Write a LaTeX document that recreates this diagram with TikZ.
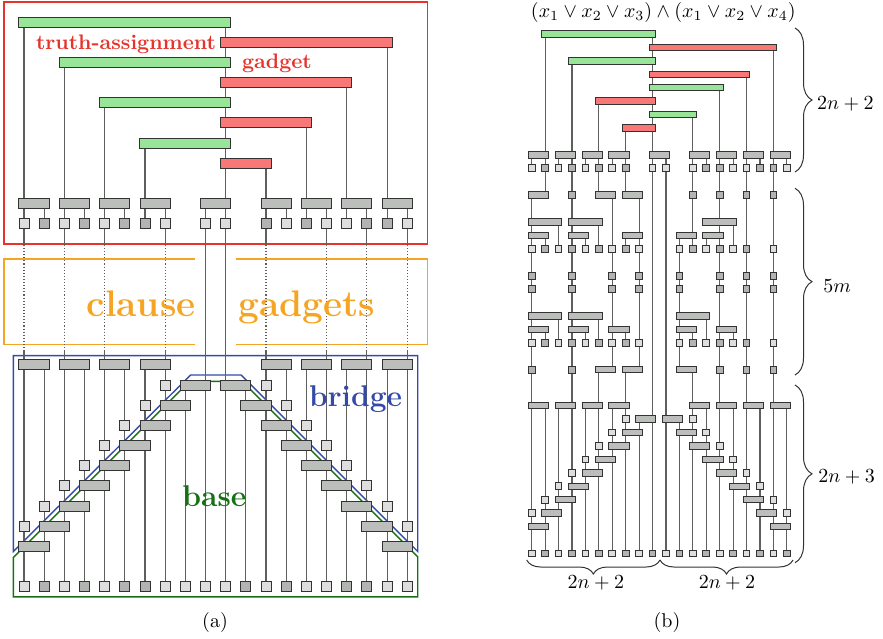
\documentclass[tikz,border=0pt]{standalone}
\usepackage{amsmath}
\usetikzlibrary{backgrounds,decorations.pathreplacing}

\definecolor{gadgetred}{RGB}{228,52,44}
\definecolor{clauseorange}{RGB}{245,165,35}
\definecolor{bridgeblue}{RGB}{52,74,168}
\definecolor{basegreen}{RGB}{22,112,22}
\definecolor{truefill}{RGB}{152,228,152}
\definecolor{falsefill}{RGB}{248,120,120}
\definecolor{bargray}{RGB}{188,190,188}
\definecolor{sqlight}{RGB}{222,222,222}
\definecolor{sqdark}{RGB}{178,180,178}
\definecolor{wiregray}{RGB}{95,95,95}

\begin{document}
\begin{tikzpicture}[x=0.5pt,y=-0.5pt,
  wire/.style={draw=wiregray,line width=0.55pt},
  cell/.style={draw=black!80,line width=0.5pt,inner sep=0pt,outer sep=0pt},
  outline/.style={line width=0.7pt},
  brc/.style={decorate,decoration={brace,amplitude=#1},draw=black!80,line width=0.5pt}]
\useasboundingbox (0,0) rectangle (883,638);

%% (a) reduction overview
\begin{scope}[shift={(12pt,-11pt)},x=10.085pt,y=-10.085pt,
  sq/.style={cell,minimum size=5pt,fill=sqlight},
  sqd/.style={sq,fill=sqdark},
  bar/.style={cell,minimum width=15.1pt,minimum height=5pt,fill=bargray},
  lit/.style={cell,minimum height=5pt}]
  % truth-assignment gadget
  \foreach \k in {0,...,3} {
    \node[lit,fill=truefill,minimum width={(10.5-2*\k)*10.085pt}] (ag\k) at ({5+\k},{2*\k}) {};
    \node[lit,fill=falsefill,minimum width={(8.5-2*\k)*10.085pt}] (ar\k) at ({14-\k},{2*\k+1}) {};
  }
  \foreach \c in {0,2,4,6,9,12,14,16,18}
    \node[bar] (ah\c) at (\c+0.5,9) {};
  \foreach \c/\s in {0/sq,1/sqd,2/sq,3/sqd,4/sq,5/sqd,6/sqd,7/sq,9/sq,10/sq,12/sqd,13/sq,14/sqd,15/sq,16/sq,17/sqd,18/sqd,19/sq}
    \node[\s] (aq\c) at (\c,10) {};
  % bridge and base
  \foreach \c in {0,2,4,6,12,14,16,18}
    \node[bar] (abb\c) at (\c+0.5,17) {};
  \foreach \k in {1,...,9} {
    \node[bar] (alb\k) at (9.5-\k,17+\k) {};
    \node[bar] (arb\k) at (9.5+\k,17+\k) {};
  }
  \foreach \k in {1,...,8} {
    \node[sq] (als\k) at (8-\k,17+\k) {};
    \node[sq] (ars\k) at (11+\k,17+\k) {};
  }
  \foreach \c/\s in {0/sq,1/sqd,2/sq,3/sqd,4/sq,5/sqd,6/sqd,7/sq,8/sq,9/sq,10/sq,11/sqd,12/sq,13/sqd,14/sq,15/sq,16/sqd,17/sqd,18/sq,19/sq}
    \node[\s] (ap\c) at (\c,28) {};
  \coordinate (dotA) at (0,11.05);
  \coordinate (dotB) at (0,16.26);

  % labels
  \node[text=gadgetred,font=\fontsize{10.5}{12}\selectfont\bfseries,anchor=base] (talabel) at (5.06,1.34) {truth-assignment};
  \node[text=gadgetred,font=\fontsize{10.5}{12}\selectfont\bfseries,anchor=base] (galabel) at (12.54,2.3) {gadget};
  \node[text=clauseorange,font=\fontsize{18.5}{20}\selectfont\bfseries,anchor=base] (cllabel) at (5.8,14.61) {clause};
  \node[text=clauseorange,font=\fontsize{18.5}{20}\selectfont\bfseries,anchor=base] (gslabel) at (14.03,14.61) {gadgets};
  \node[text=bridgeblue,font=\fontsize{15}{17}\selectfont\bfseries,anchor=base] (brlabel) at (16.44,19.04) {bridge};
  \node[text=basegreen,font=\fontsize{15}{17}\selectfont\bfseries,anchor=base] (balabel) at (9.44,24.03) {base};

  \begin{pgfonlayer}{background}
    \draw[outline,gadgetred] (-1,-1) rectangle (20,11);
    \draw[outline,clauseorange] (8.5,11.75) -- (-1,11.75) -- (-1,16) -- (8.5,16)
      (10.5,11.75) -- (20,11.75) -- (20,16) -- (10.5,16);
    \draw[outline,bridgeblue] (-0.53,16.54) -- (19.52,16.54) -- (19.52,26.25) -- (10.76,17.5)
      -- (8.26,17.5) -- (-0.53,26.25) -- cycle;
    \draw[outline,basegreen] (-0.53,28.5) -- (-0.53,26.55) -- (8.2,17.82) -- (10.82,17.82)
      -- (19.52,26.52) -- (19.52,28.5) -- cycle;
    % wires
    \foreach \c/\s in {1/ah0,3/ah2,5/ah4,6/ag3,13/ah12,14/ar2,16/ar1,18/ar0}
      \draw[wire] (aq\c |- \s) -- (aq\c);
    \foreach \c/\s in {0/ag0,2/ag1,4/ag2,7/ah6,12/ar3,15/ah14,17/ah16,19/ah18} {
      \draw[wire] (ap\c |- \s) -- (ap\c |- dotA) (ap\c |- dotB) -- (ap\c);
      \draw[wire,densely dotted] (ap\c |- dotA) -- (ap\c |- dotB);
    }
    \draw[wire] (ap10 |- ag0) -- (ap10);
    \draw[wire] (ap9 |- ah9) -- (ap9);
    \foreach \c/\s in {1/abb0,3/abb2,5/abb4,6/abb6,8/alb1,11/arb1,13/abb12,14/abb14,16/abb16,18/abb18}
      \draw[wire] (ap\c |- \s) -- (ap\c);
  \end{pgfonlayer}
\end{scope}

%% (b) example instance
\begin{scope}[shift={(265.85pt,-17pt)},x=6.715pt,y=-6.715pt,
  sq/.style={cell,minimum size=3.35pt,fill=sqlight},
  sqd/.style={sq,fill=sqdark},
  bar/.style={cell,minimum width=10.1pt,minimum height=3.2pt,fill=bargray},
  wbar/.style={bar,minimum width=16.8pt},
  lit/.style={cell,minimum height=3.2pt}]
  \foreach \r/\a/\e/\f in {0/1/9/truefill,1/9/18/falsefill,2/3/9/truefill,3/9/16/falsefill,
      4/9/14/truefill,5/5/9/falsefill,6/9/12/truefill,7/7/9/falsefill}
    \node[lit,fill=\f,minimum width={(\e-\a+0.5)*6.715pt}] (bt\r) at ({(\a+\e)/2},\r) {};
  \foreach \c in {0,2,4,6,9,12,14,16,18}
    \node[bar] (bh\c) at (\c+0.5,9) {};
  \foreach \c/\s in {0/sq,1/sqd,2/sq,3/sqd,4/sq,5/sqd,6/sq,7/sqd,9/sq,10/sq,12/sq,13/sqd,14/sqd,15/sq,16/sq,17/sqd,18/sqd,19/sq}
    \node[\s] (bq\c) at (\c,10) {};
  % clause gadgets
  \foreach \r/\c in {12/0,12/5,12/7,15/0,15/3,15/7,22/0,22/3,22/6,25/5,25/7,15/11,15/13,22/11,22/14,25/11}
    \node[bar] (c\r x\c) at (\c+0.5,\r) {};
  \foreach \r/\c in {14/0,14/3,21/0,21/3,14/13,21/11}
    \node[wbar] (c\r x\c) at (\c+1,\r) {};
  \foreach \r in {16,23}
    \foreach \c/\s in {0/sq,1/sqd,2/sq,3/sqd,4/sq,5/sqd,6/sq,7/sqd,8/sq,11/sq,12/sqd,13/sq,14/sqd,15/sq,16/sqd,18/sq}
      \node[\s] (c\r x\c) at (\c,\r) {};
  \foreach \r in {18,19}
    \foreach \c in {0,3,6,8,11,14,16,18}
      \node[sqd] (c\r x\c) at (\c,\r) {};
  \foreach \r/\c in {12/3,12/12,12/14,12/16,12/18,25/0,25/3,25/14,25/16,25/18}
    \node[sqd] (c\r x\c) at (\c,\r) {};
  % bridge
  \foreach \c in {0,2,4,6,12,14,16,18}
    \node[bar] (bbb\c) at (\c+0.5,27.68) {};
  \foreach \k in {1,...,9} {
    \node[bar] (blb\k) at (9.5-\k,27.68+\k) {};
    \node[bar] (brb\k) at (9.5+\k,27.68+\k) {};
  }
  \foreach \k in {1,...,8} {
    \node[sq] (bls\k) at (8-\k,27.68+\k) {};
    \node[sq] (brs\k) at (11+\k,27.68+\k) {};
  }
  \foreach \c/\s in {0/sq,1/sqd,2/sq,3/sqd,4/sq,5/sqd,6/sq,7/sqd,8/sq,9/sqd,10/sq,11/sqd,12/sq,13/sqd,14/sq,15/sqd,16/sq,17/sqd,18/sq,19/sqd}
    \node[\s] (bp\c) at (\c,38.68) {};

  \begin{pgfonlayer}{background}
    \foreach \c/\s/\e in {0/bh0/bq0,1/bt0/c12x0,2/bh2/bq2,4/bh4/bq4,5/bt5/c12x5,6/bh6/bq6,7/bt7/c12x7,
        12/bt6/c16x12,13/bh12/bq13,15/bh14/bq15,17/bh16/bq17,19/bh18/bq19,
        0/c12x0/bp0,1/c15x0/c16x1,1/c22x0/c23x1,1/bbb0/bp1,2/c14x0/c16x2,2/c21x0/c23x2,2/bbb2/bp2,
        4/c15x3/c16x4,4/c22x3/c23x4,4/bbb4/bp4,5/c14x3/c16x5,5/c21x3/c23x5,5/c25x5/bp5,
        6/c12x5/c25x5,6/bbb6/bp6,7/c15x7/c16x7,7/c22x6/c23x7,7/c25x7/bp7,8/c12x7/c25x7,8/blb1/bp8,
        11/c15x11/c25x11,11/brb1/bp11,12/c22x11/c23x12,12/c25x11/bp12,
        13/c15x13/c16x13,13/c21x11/c23x13,13/bbb12/bp13,15/c14x13/c16x15,15/c22x14/c23x15,15/bbb14/bp15,
        17/bbb16/bp17,19/bbb18/bp19}
      \draw[wire] (bp\c |- \s) -- (bp\c |- \e);
    \foreach \c/\s in {3/bt2,9/bt0,10/bh9,14/bt4,16/bt3,18/bt1}
      \draw[wire] (bp\c |- \s) -- (bp\c);
  \end{pgfonlayer}
\end{scope}

% formula, braces and captions
\node[inner sep=0pt] (formula) at (663.3,12) {$(x_1\lor x_2\lor x_3)\land(x_1\lor x_2\lor x_4)$};
\draw[brc=8.5pt] (795,28) -- (795,172);
\node[anchor=west,inner sep=0pt] (cnta) at (816.7,104) {$2n+2$};
\draw[brc=8.5pt] (795,188.3) -- (795,375);
\node[anchor=west,inner sep=0pt] (cntb) at (823,286) {$5m$};
\draw[brc=8.5pt] (795,385) -- (795,562.7);
\node[anchor=west,inner sep=0pt] (cntc) at (818,477) {$2n+3$};
\draw[brc=7pt] (660,560) -- (526.7,560);
\draw[brc=7pt] (793,560) -- (660,560);
\node (cntd) at (595.8,583) {$2n+2$};
\node (cnte) at (727,583) {$2n+2$};
\node (capa) at (215,622) {(a)};
\node (capb) at (667,622) {(b)};
\end{tikzpicture}
\end{document}
